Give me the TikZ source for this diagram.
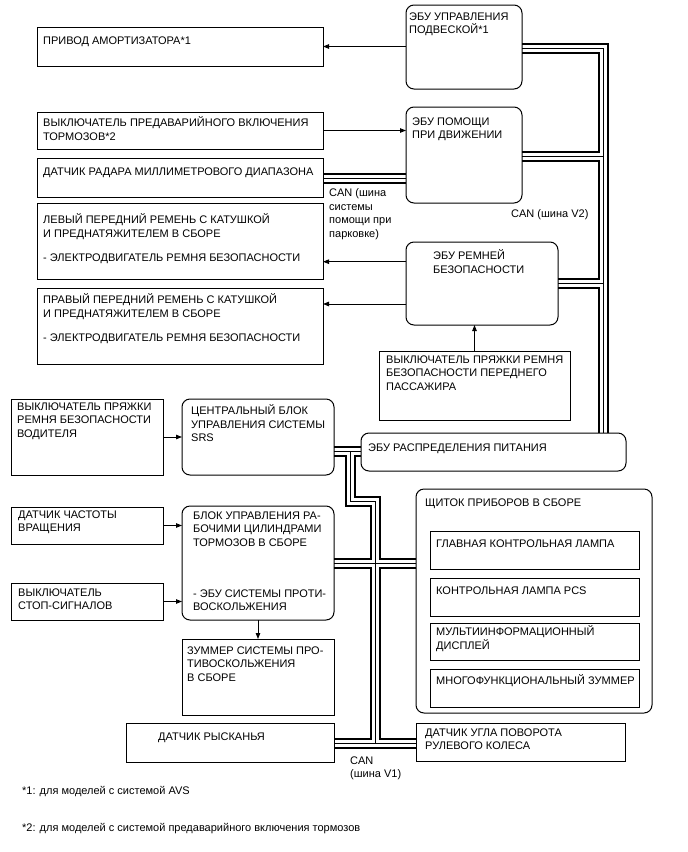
\documentclass[tikz,border=0pt]{standalone}
\usepackage{fontspec}
\setmainfont{Liberation Sans}
\usetikzlibrary{arrows.meta,calc}
\pgfdeclarelayer{bg}
\pgfsetlayers{bg,main}
\newcommand\tfont{\fontsize{11}{13.5}\selectfont}
\newcommand\mkbox[6]{\node[#1, minimum width=#4pt-#2pt, minimum height=#5pt-#3pt] (#6) at (#2,#3) {};}
\begin{document}
\begin{tikzpicture}[x=1pt,y=-1pt,
  box/.style={draw, line width=1pt, anchor=north west, inner sep=0pt, outer sep=0pt},
  rbox/.style={box, rounded corners=8pt},
  txt/.style={anchor=north west, inner sep=0pt, align=left, font=\tfont, execute at begin node={\rule{0pt}{10.5pt}}},
  arr/.style={line width=0.9pt, -{Triangle[length=6pt,width=4.5pt]}},
  bus/.style={line width=1pt, preaction={draw, line width=11pt}, preaction={draw, white, line width=7pt}}]
\useasboundingbox (0,0) rectangle (688,852);

% boxes
\mkbox{box}{37}{27}{323}{66}{act}
\mkbox{rbox}{406}{5}{522}{89}{susp}
\mkbox{box}{37}{112}{323}{149}{pre}
\mkbox{rbox}{406}{107}{522}{203}{drive}
\mkbox{box}{37}{158}{323}{197}{radar}
\mkbox{box}{37}{203}{323}{279}{beltL}
\mkbox{box}{37}{288}{323}{364}{beltR}
\mkbox{rbox}{406}{242}{558}{325}{beltecu}
\mkbox{box}{379}{351}{570}{420}{pass}
\mkbox{box}{11}{399}{163}{475}{drv}
\mkbox{rbox}{182}{399}{334}{475}{srs}
\mkbox{rbox}{361}{433}{626}{471}{pwr}
\mkbox{box}{11}{507}{163}{544}{spd}
\mkbox{rbox}{182}{506}{334}{620}{brake}
\mkbox{box}{11}{583}{163}{620}{stop}
\mkbox{box}{182}{639}{334}{715}{buzz}
\mkbox{rbox}{416}{489}{652}{713}{cluster}
\mkbox{box}{430}{531}{639}{569}{lamp1}
\mkbox{box}{430}{578}{639}{616}{lamp2}
\mkbox{box}{430}{623}{639}{660}{disp}
\mkbox{box}{430}{669}{639}{707}{mbuzz}
\mkbox{box}{126}{723}{334}{762}{yaw}
\mkbox{box}{416}{723}{625}{761}{steer}

% texts
\node[txt] (actT) at (43,34.1) {ПРИВОД АМОРТИЗАТОРА*1};
\node[txt] (suspT) at (409,12.4) {ЭБУ УПРАВЛЕНИЯ\\ПОДВЕСКОЙ*1};
\node[txt] (preT) at (43,116.7) {ВЫКЛЮЧАТЕЛЬ ПРЕДАВАРИЙНОГО ВКЛЮЧЕНИЯ\\ТОРМОЗОВ*2};
\node[txt] (driveT) at (412,117.4) {ЭБУ ПОМОЩИ\\ПРИ ДВИЖЕНИИ};
\node[txt] (radarT) at (43,164.4) {ДАТЧИК РАДАРА МИЛЛИМЕТРОВОГО ДИАПАЗОНА};
\node[txt] (beltLT) at (43,213.4) {ЛЕВЫЙ ПЕРЕДНИЙ РЕМЕНЬ С КАТУШКОЙ\\И ПРЕДНАТЯЖИТЕЛЕМ В СБОРЕ\\[10.5pt]- ЭЛЕКТРОДВИГАТЕЛЬ РЕМНЯ БЕЗОПАСНОСТИ};
\node[txt] (beltRT) at (43,293.4) {ПРАВЫЙ ПЕРЕДНИЙ РЕМЕНЬ С КАТУШКОЙ\\И ПРЕДНАТЯЖИТЕЛЕМ В СБОРЕ\\[10.5pt]- ЭЛЕКТРОДВИГАТЕЛЬ РЕМНЯ БЕЗОПАСНОСТИ};
\node[txt] (beltecuT) at (433,249.4) {ЭБУ РЕМНЕЙ\\БЕЗОПАСНОСТИ};
\node[txt] (passT) at (386,355.4) {ВЫКЛЮЧАТЕЛЬ ПРЯЖКИ РЕМНЯ\\БЕЗОПАСНОСТИ ПЕРЕДНЕГО\\ПАССАЖИРА};
\node[txt] (drvT) at (17,402.4) {ВЫКЛЮЧАТЕЛЬ ПРЯЖКИ\\РЕМНЯ БЕЗОПАСНОСТИ\\ВОДИТЕЛЯ};
\node[txt] (srsT) at (191,404.4) {ЦЕНТРАЛЬНЫЙ БЛОК\\УПРАВЛЕНИЯ СИСТЕМЫ\\SRS};
\node[txt] (pwrT) at (368,440.4) {ЭБУ РАСПРЕДЕЛЕНИЯ ПИТАНИЯ};
\node[txt] (spdT) at (18,510.4) {ДАТЧИК ЧАСТОТЫ\\ВРАЩЕНИЯ};
\node[txt] (brakeT) at (193,511.4) {БЛОК УПРАВЛЕНИЯ РА-\\БОЧИМИ ЦИЛИНДРАМИ\\ТОРМОЗОВ В СБОРЕ};
\node[txt] (brakeT2) at (193,589.4) {- ЭБУ СИСТЕМЫ ПРОТИ-\\ВОСКОЛЬЖЕНИЯ};
\node[txt] (stopT) at (18,588.4) {ВЫКЛЮЧАТЕЛЬ\\СТОП-СИГНАЛОВ};
\node[txt] (buzzT) at (187,646.4) {ЗУММЕР СИСТЕМЫ ПРО-\\ТИВОСКОЛЬЖЕНИЯ\\В СБОРЕ};
\node[txt] (clusterT) at (425,495.4) {ЩИТОК ПРИБОРОВ В СБОРЕ};
\node[txt] (lamp1T) at (436,536.4) {ГЛАВНАЯ КОНТРОЛЬНАЯ ЛАМПА};
\node[txt] (lamp2T) at (436,583.4) {КОНТРОЛЬНАЯ ЛАМПА PCS};
\node[txt] (dispT) at (436,625.4) {МУЛЬТИИНФОРМАЦИОННЫЙ\\ДИСПЛЕЙ};
\node[txt] (mbuzzT) at (436,673.4) {МНОГОФУНКЦИОНАЛЬНЫЙ ЗУММЕР};
\node[txt] (yawT) at (158,729.4) {ДАТЧИК РЫСКАНЬЯ};
\node[txt] (steerT) at (425,728.4) {ДАТЧИК УГЛА ПОВОРОТА\\РУЛЕВОГО КОЛЕСА};
\node[txt] (canP) at (329,188.4) {CAN (шина\\системы\\помощи при\\парковке)};
\node[txt] (canV2) at (511,206.4) {CAN (шина V2)};
\node[txt] (canV1) at (350,756.4) {CAN\\(шина V1)};
\node[txt] (fn1) at (22,783.4) {*1: для моделей с системой AVS};
\node[txt] (fn2) at (22,820.4) {*2: для моделей с системой предаварийного включения тормозов};

% arrows
\draw[arr] (susp.west |- act.east) -- (act.east);
\draw[arr] (pre.east) -- (pre.east -| drive.west);
\draw[arr] (beltecu.west |- 0,261.7) -- (beltL.east |- 0,261.7);
\draw[arr] (beltecu.west |- 0,304) -- (beltR.east |- 0,304);
\draw[arr] (pass.north) -- (pass.north |- beltecu.south);
\draw[arr] (drv.east) -- (drv.east -| srs.west);
\draw[arr] (spd.east) -- (spd.east -| brake.west);
\draw[arr] (stop.east) -- (stop.east -| brake.west);
\draw[arr] (brake.south) -- (buzz.north);

% buses
\coordinate (v2a) at (603,48.5);
\coordinate (v2b) at (603,156);
\coordinate (v2c) at (603,283);
\coordinate (v1a) at (350,451.5);
\coordinate (v1b) at (350,501);
\coordinate (v1c) at (375,501);
\coordinate (v1d) at (375,563.5);
\coordinate (v1e) at (375,743.5);
\begin{pgfonlayer}{bg}
\draw[bus] (susp.east |- v2a) -- (v2a) -- (v2a |- pwr.north)
  (drive.east |- v2b) -- (v2b)
  (beltecu.east |- v2c) -- (v2c);
\draw[bus] (radar.east |- 0,178) -- (drive.west |- 0,178);
\draw[bus] (srs.east |- v1a) -- (pwr.west |- v1a)
  (v1a) -- (v1b) -- (v1c) -- (v1e)
  (brake.east |- v1d) -- (cluster.west |- v1d)
  (yaw.east |- v1e) -- (steer.west |- v1e);
\end{pgfonlayer}
\end{tikzpicture}
\end{document}
